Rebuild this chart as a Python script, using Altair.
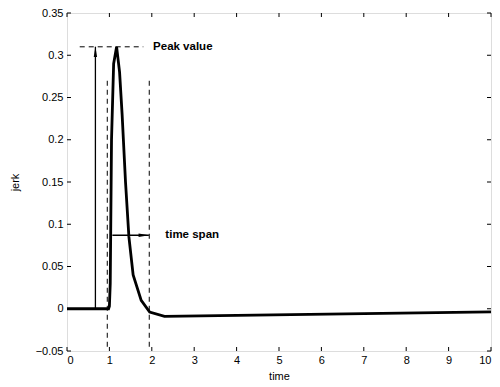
import altair as alt
import pandas as pd

# curve data
t = [0, 0.98, 1.0, 1.02, 1.05, 1.1, 1.17, 1.24, 1.3, 1.38, 1.46, 1.56, 1.75, 1.95, 2.3, 10]
jerk = [0, 0, 0.003, 0.03, 0.2, 0.29, 0.31, 0.28, 0.23, 0.15, 0.085, 0.04, 0.01, -0.004, -0.009, -0.0037]

x_ticks = list(range(0, 11))
y_ticks = [-0.05, 0, 0.05, 0.1, 0.15, 0.2, 0.25, 0.3, 0.35]

peak = 0.31
peak_line_x = [0.3, 1.8]
span_x = [0.95, 1.94]
span_y = [-0.045, 0.272]
arrow_v_x = 0.67
arrow_h_y = 0.087
arrow_h_x = [1.07, 1.93]
labels_text = ["Peak value", "time span"]
labels_x = [2.03, 2.32]
labels_y = [0.31, 0.087]

FONT = "Liberation Sans"
W, H = 424, 338

xs = alt.Scale(domain=[0, 10], nice=False, zero=False)
ys = alt.Scale(domain=[-0.05, 0.35], nice=False, zero=False)

df = pd.DataFrame({"t": t, "jerk": jerk})

base_axis_x = alt.Axis(values=x_ticks, ticks=False, domain=False, grid=False, labelFont=FONT,
                       labelFontSize=11, labelColor="black", labelPadding=3,
                       title="time", titleFont=FONT, titleFontSize=11, titleFontWeight="normal",
                       titleColor="black", titlePadding=5)
base_axis_y = alt.Axis(values=y_ticks, ticks=False, domain=False, grid=False, labelFont=FONT,
                       labelFontSize=11, labelColor="black", labelPadding=4, format=".2~f",
                       title="jerk", titleFont=FONT, titleFontSize=11, titleFontWeight="normal",
                       titleColor="black", titlePadding=15)

curve = alt.Chart(df).mark_line(color="black", strokeWidth=2.8, clip=True).encode(
    x=alt.X("t:Q", scale=xs, axis=base_axis_x),
    y=alt.Y("jerk:Q", scale=ys, axis=base_axis_y),
)

# inward ticks
xt = pd.DataFrame({"v": x_ticks})
yt = pd.DataFrame({"v": y_ticks})
tick_b = alt.Chart(xt).mark_rule(color="black", strokeWidth=1).encode(
    x=alt.X("v:Q", scale=xs), y=alt.value(H), y2=alt.value(H - 4))
tick_t = alt.Chart(xt).mark_rule(color="black", strokeWidth=1).encode(
    x=alt.X("v:Q", scale=xs), y=alt.value(0), y2=alt.value(4))
tick_l = alt.Chart(yt).mark_rule(color="black", strokeWidth=1).encode(
    y=alt.Y("v:Q", scale=ys), x=alt.value(0), x2=alt.value(4))
tick_r = alt.Chart(yt).mark_rule(color="black", strokeWidth=1).encode(
    y=alt.Y("v:Q", scale=ys), x=alt.value(W), x2=alt.value(W - 4))

# dashed peak line
pk = pd.DataFrame({"x1": [peak_line_x[0]], "x2": [peak_line_x[1]], "y": [peak]})
peak_line = alt.Chart(pk).mark_rule(color="black", strokeWidth=1, strokeDash=[5, 4]).encode(
    x=alt.X("x1:Q", scale=xs), x2="x2:Q", y=alt.Y("y:Q", scale=ys))

# dashed vertical span lines
sp = pd.DataFrame({"x": span_x, "y1": [span_y[0]] * 2, "y2": [span_y[1]] * 2})
span_lines = alt.Chart(sp).mark_rule(color="black", strokeWidth=1, strokeDash=[5, 4]).encode(
    x=alt.X("x:Q", scale=xs), y=alt.Y("y1:Q", scale=ys), y2="y2:Q")

# vertical arrow
av = pd.DataFrame({"x": [arrow_v_x], "y1": [0.0], "y2": [peak]})
arrow_v = alt.Chart(av).mark_rule(color="black", strokeWidth=1.3).encode(
    x=alt.X("x:Q", scale=xs), y=alt.Y("y1:Q", scale=ys), y2="y2:Q")
arrow_v_head = alt.Chart(av).mark_point(shape="M0,-1L0.32,1L-0.32,1Z", filled=True, color="black",
                                        opacity=1, size=110, yOffset=5).encode(
    x=alt.X("x:Q", scale=xs), y=alt.Y("y2:Q", scale=ys))

# horizontal arrow
ah = pd.DataFrame({"x1": [arrow_h_x[0]], "x2": [arrow_h_x[1]], "y": [arrow_h_y]})
arrow_h = alt.Chart(ah).mark_rule(color="black", strokeWidth=1.3).encode(
    x=alt.X("x1:Q", scale=xs), x2="x2:Q", y=alt.Y("y:Q", scale=ys))
arrow_h_head = alt.Chart(ah).mark_point(shape="M1,0L-1,-0.32L-1,0.32Z", filled=True, color="black",
                                        opacity=1, size=110, xOffset=-5).encode(
    x=alt.X("x2:Q", scale=xs), y=alt.Y("y:Q", scale=ys))

lb = pd.DataFrame({"text": labels_text, "x": labels_x, "y": labels_y})
labels = alt.Chart(lb).mark_text(font=FONT, fontSize=11.5, fontWeight="bold", align="left",
                                 baseline="middle", color="black").encode(
    x=alt.X("x:Q", scale=xs), y=alt.Y("y:Q", scale=ys), text="text:N")

chart = alt.layer(
    curve, peak_line, span_lines, arrow_v, arrow_v_head, arrow_h, arrow_h_head, labels,
    tick_b, tick_t, tick_l, tick_r,
).properties(
    width=W, height=H,
    autosize=alt.AutoSizeParams(type="none"),
    padding={"left": 59, "top": 5, "right": 1, "bottom": 36},
).configure_view(stroke="black", strokeWidth=1).configure(background="white")

chart.save("out.html", embed_options={"renderer": "svg", "actions": False})
